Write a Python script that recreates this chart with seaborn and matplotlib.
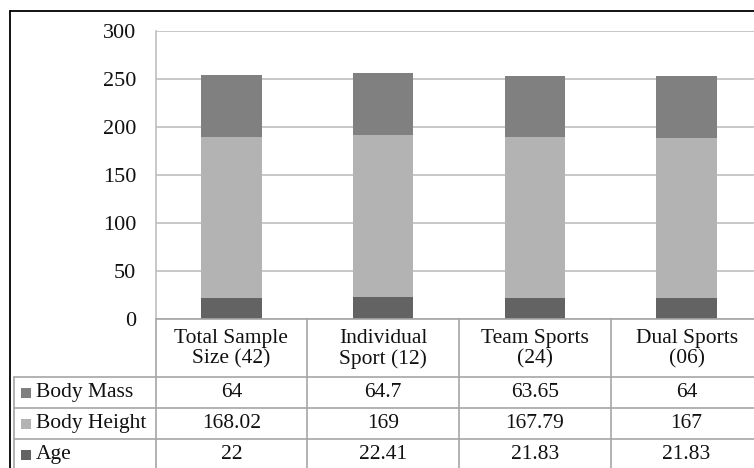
import numpy as np
import pandas as pd
import matplotlib
matplotlib.use('Agg')
import matplotlib.pyplot as plt
import matplotlib.transforms as mtransforms
from matplotlib.lines import Line2D
from matplotlib.patches import Rectangle
import seaborn as sns

# Data

groups = ['Total Sample\nSize (42)', 'Individual\nSport (12)',
          'Team Sports\n(24)', 'Dual Sports\n(06)']
age = [22, 22.41, 21.83, 21.83]
body_height = [168.02, 169, 167.79, 167]
body_mass = [64, 64.7, 63.65, 64]

# values as printed in the data table
mass_txt = ['64', '64.7', '63.65', '64']
height_txt = ['168.02', '169', '167.79', '167']
age_txt = ['22', '22.41', '21.83', '21.83']

series = ['Body Mass', 'Body Height', 'Age']
colors = {'Body Mass': '#808080', 'Body Height': '#b3b3b3', 'Age': '#636363'}
grid_col = '#bfbfbf'
table_col = '#a6a6a6'
text_col = '#111111'

df = pd.DataFrame({'group': groups, 'Age': age,
                   'Body Height': body_height, 'Body Mass': body_mass})
df['height_top'] = df['Age'] + df['Body Height']
df['mass_top'] = df['height_top'] + df['Body Mass']

sns.set_theme(style='white')
plt.rcParams['font.family'] = ['Liberation Serif', 'DejaVu Serif']

W, H = 754, 468
fig = plt.figure(figsize=(W / 100, H / 100), dpi=100)

# plot area in pixels (it runs past the right edge of the picture)
ax_l, ax_t, ax_r, ax_b = 155.5, 31, 762.5, 319
ax = fig.add_axes([ax_l / W, 1 - ax_b / H, (ax_r - ax_l) / W, (ax_b - ax_t) / H])

# Stacked bars: draw cumulative totals from the top layer down
for col, name in [('mass_top', 'Body Mass'), ('height_top', 'Body Height'), ('Age', 'Age')]:
    sns.barplot(data=df, x='group', y=col, color=colors[name], saturation=1,
                width=0.4, errorbar=None, linewidth=0, ax=ax, zorder=2)

ax.set_xlim(-0.5, len(groups) - 0.5)
ax.set_ylim(0, 300)
ax.set_yticks(range(0, 301, 50))
ax.set_xticks([])
ax.set_xlabel('')
ax.set_ylabel('')
ax.tick_params(axis='y', length=0, pad=14, labelsize=16, labelcolor=text_col)
ax.yaxis.grid(True, color=grid_col, linewidth=1.2, zorder=0)
ax.set_axisbelow(True)
for side in ['top', 'right']:
    ax.spines[side].set_visible(False)
ax.spines['left'].set_color(grid_col)
ax.spines['bottom'].set_color(table_col)
ax.spines['left'].set_linewidth(1.2)
ax.spines['bottom'].set_linewidth(1.2)

# Data table below the plot
ph = ax_b - ax_t
pw = ax_r - ax_l


def ay(px):
    return -(px - ax_b) / ph


def axx(px):
    return (px - ax_l) / pw


blend = mtransforms.blended_transform_factory(ax.transData, ax.transAxes)
row_tops = [377, 408, 439]
row_bottom = 472
fs = 15.5

for i, g in enumerate(groups):
    ax.text(i, ay(349), g, transform=blend, ha='center', va='center',
            fontsize=fs, linespacing=1.1, color=text_col)

for i in range(len(groups) + 1):
    ax.add_line(Line2D([i - 0.5, i - 0.5], [ay(row_bottom), 0], transform=blend,
                       color=table_col, linewidth=1.2, clip_on=False))

for y in row_tops:
    ax.add_line(Line2D([axx(14), 1], [ay(y), ay(y)], transform=ax.transAxes,
                       color=table_col, linewidth=1.2, clip_on=False))
ax.add_line(Line2D([axx(14), axx(14)], [ay(row_bottom), ay(row_tops[0])],
                   transform=ax.transAxes, color=table_col, linewidth=1.2,
                   clip_on=False))

row_vals = {'Body Mass': mass_txt, 'Body Height': height_txt, 'Age': age_txt}
for r, name in enumerate(series):
    top = row_tops[r]
    bot = row_tops[r + 1] if r + 1 < len(row_tops) else 470
    yc = ay((top + bot) / 2)
    ax.add_patch(Rectangle((axx(21), yc - 5 / ph), 10 / pw, 10 / ph,
                           transform=ax.transAxes, facecolor=colors[name],
                           edgecolor='none', clip_on=False))
    ax.text(axx(36), yc, name, transform=ax.transAxes, ha='left', va='center',
            fontsize=fs, color=text_col)
    for i, v in enumerate(row_vals[name]):
        ax.text(i, yc, v, transform=blend, ha='center', va='center',
                fontsize=fs, color=text_col)

# outer chart border (cut off at right and bottom)
fig.add_artist(Line2D([10 / W, 1], [1 - 11 / H, 1 - 11 / H], transform=fig.transFigure,
                      color='black', linewidth=1.3))
fig.add_artist(Line2D([10 / W, 10 / W], [0, 1 - 11 / H], transform=fig.transFigure,
                      color='black', linewidth=1.3))

fig.savefig('out.png', dpi=100)
